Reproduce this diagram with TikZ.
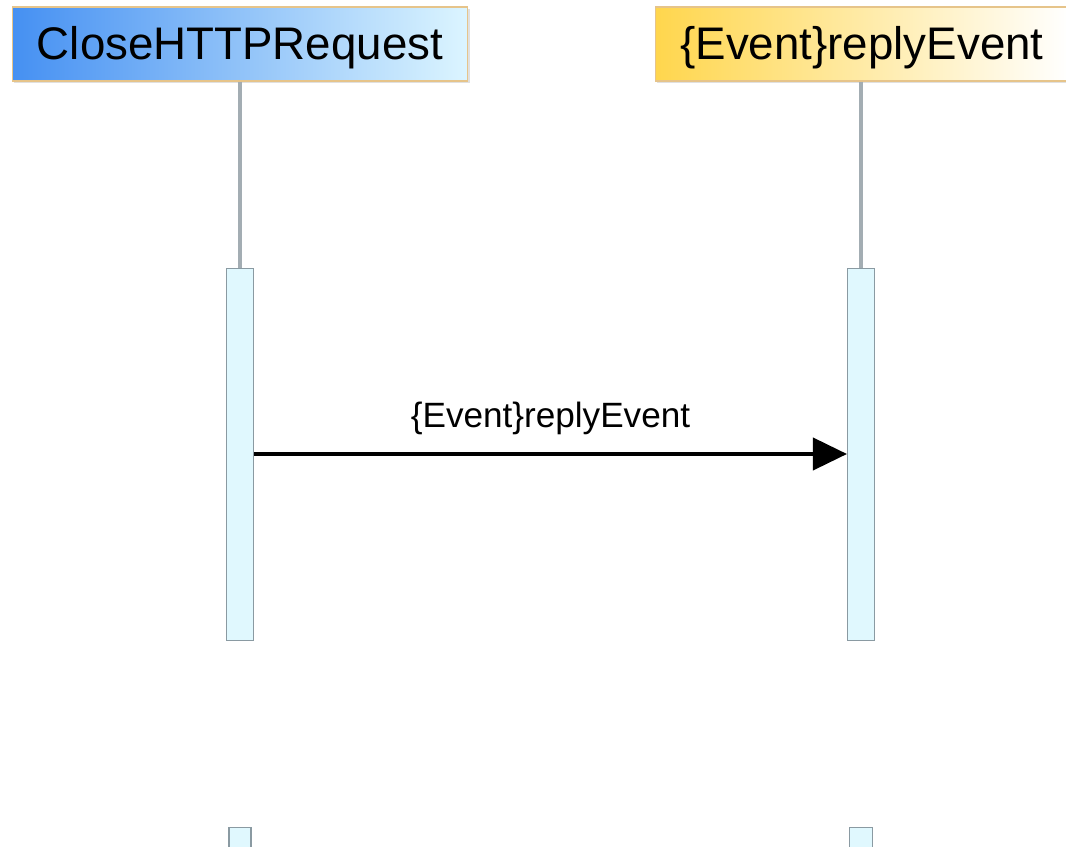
\documentclass[tikz,border=0pt]{standalone}
\usepackage{fontspec}
\setmainfont{Liberation Sans}
\usetikzlibrary{arrows.meta,positioning}
\definecolor{headblue}{HTML}{4590F2}
\definecolor{headcyan}{HTML}{DCF5FF}
\definecolor{headgold}{HTML}{FFD64D}
\definecolor{headedge}{HTML}{E6C48A}
\definecolor{actfill}{HTML}{E0F8FE}
\definecolor{actedge}{HTML}{8A9AA2}
\definecolor{lifegray}{HTML}{A3ADB3}
\tikzset{
  head/.style={minimum height=1.48cm, inner sep=0pt, draw=headedge, line width=0.6pt,
    text height=0.64cm, text depth=0pt, font=\fontsize{26}{30}\selectfont},
  actbox/.style={draw=actedge, fill=actfill, line width=0.6pt, inner sep=0pt,
    minimum width=0.54cm, anchor=north},
  lifeline/.style={draw=lifegray, line width=0.08cm},
  msg/.style={draw=black, line width=0.08cm, -{Triangle[length=0.68cm,width=0.64cm]}}
}
\begin{document}
\begin{tikzpicture}[x=0.02cm, y=-0.02cm]
    \useasboundingbox (0,0) rectangle (1066,847);
    \clip (0,0) rectangle (1066,847);
    % participants
    \fill[black!12] (14,9) rectangle (470,83);
    \node[head, minimum width=9.12cm, left color=headblue, right color=headcyan] (req) at (240,44) {CloseHTTPRequest};
    \fill[black!12] (657,9) rectangle (1072,83);
    \node[head, minimum width=8.28cm, left color=headgold, right color=white] (evt) at (862,44) {\{Event\}replyEvent};
    % activations
    \node[actbox, minimum height=7.44cm] (reqact) at (240,268) {};
    \node[actbox, minimum height=7.44cm] (evtact) at (861,268) {};
    \node[actbox, minimum width=0.44cm, minimum height=1cm] (reqnext) at (240,827) {};
    \node[actbox, minimum width=0.46cm, minimum height=1cm] (evtnext) at (861,827) {};
    % lifelines
    \draw[lifeline] (req.south) -- (reqact.north);
    \draw[lifeline] (evt.south -| evtact.north) -- (evtact.north);
    % message
    \draw[msg] (reqact.east |- 0,454) -- node[above=0.22cm, font=\fontsize{20}{24}\selectfont] (msglbl) {\{Event\}replyEvent} (evtact.west |- 0,454);
\end{tikzpicture}
\end{document}
